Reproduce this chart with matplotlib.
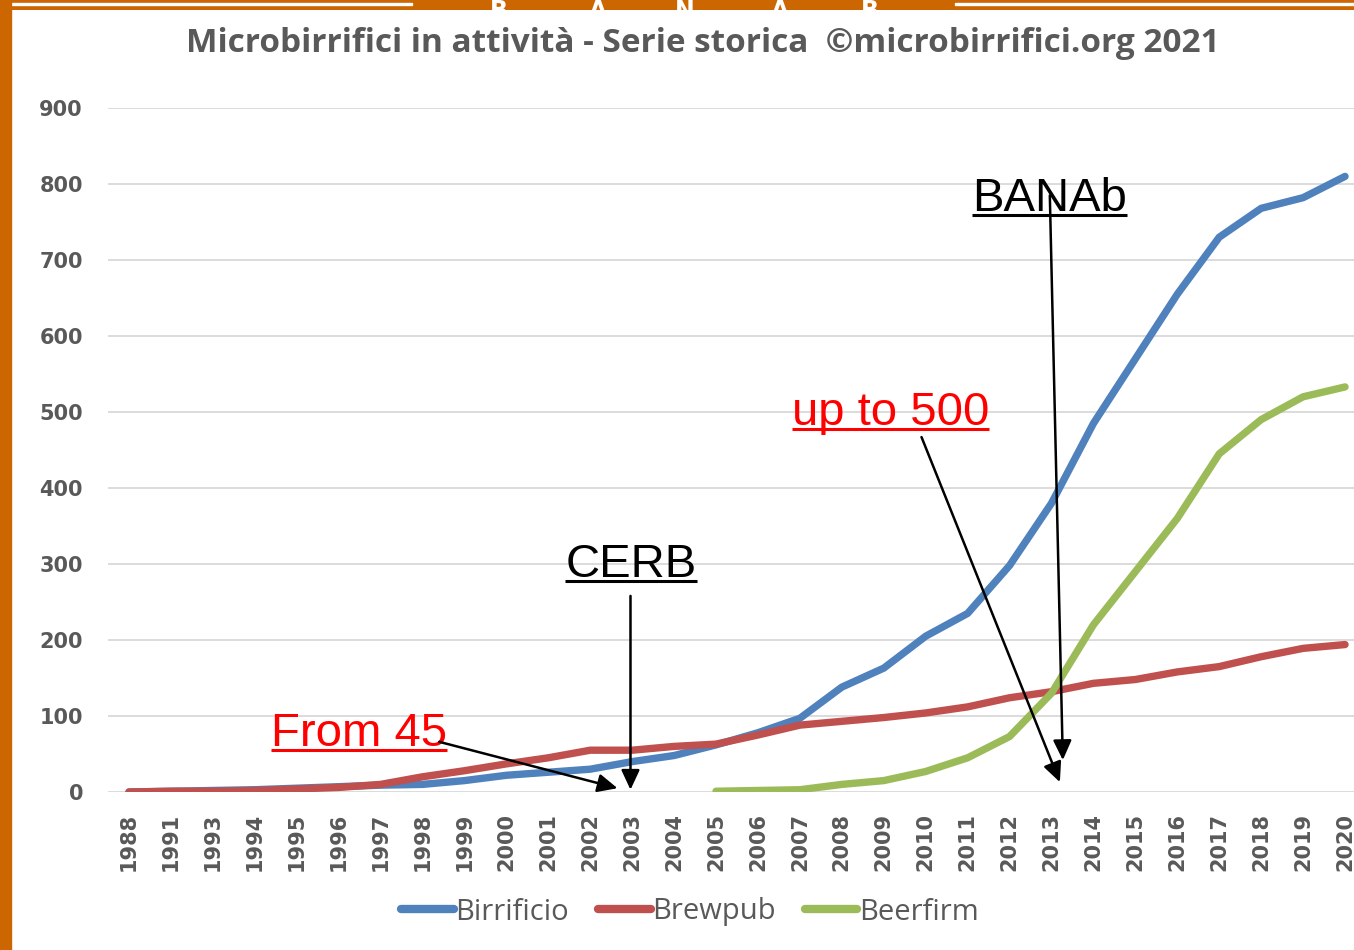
import numpy as np
import matplotlib
matplotlib.use("Agg")
import matplotlib.pyplot as plt
from matplotlib.patches import Rectangle
from matplotlib.lines import Line2D

# data
years = ['1988', '1991', '1993', '1994', '1995', '1996', '1997', '1998', '1999', '2000',
         '2001', '2002', '2003', '2004', '2005', '2006', '2007', '2008', '2009', '2010',
         '2011', '2012', '2013', '2014', '2015', '2016', '2017', '2018', '2019', '2020']
birrificio = [0, 1, 2, 3, 5, 7, 9, 10, 15, 22,
              26, 30, 40, 48, 62, 78, 97, 138, 163, 205,
              235, 298, 380, 485, 570, 655, 730, 768, 782, 810]
brewpub = [0, 1, 1, 2, 4, 6, 10, 20, 28, 37,
           45, 55, 55, 60, 63, 75, 88, 93, 98, 104,
           112, 124, 132, 143, 148, 158, 165, 178, 189, 194]
beerfirm = [np.nan] * 14 + [1, 2, 3, 10, 15, 27, 45, 73, 130, 220,
                            290, 360, 445, 490, 520, 533]

series_names = ['Birrificio', 'Brewpub', 'Beerfirm']
series_colors = ['#4F81BD', '#C0504D', '#9BBB59']
title = 'Microbirrifici in attività - Serie storica  ©microbirrifici.org 2021'

W, H = 1354, 950
fig = plt.figure(figsize=(W / 100, H / 100), dpi=100)
fig.patch.set_facecolor('white')

# orange frame
orange = '#CC6600'
fig.patches.append(Rectangle((0, 0), 11 / W, 1, transform=fig.transFigure, color=orange, zorder=5))
band = fig.add_axes([0, 1 - 10 / H, 1, 10 / H])
band.set_facecolor(orange)
band.set_xticks([])
band.set_yticks([])
for s in band.spines.values():
    s.set_visible(False)
band.set_xlim(0, W)
band.set_ylim(0, 10)
band.add_patch(Rectangle((3, 5), 409, 2, color='white'))
band.add_patch(Rectangle((955, 5), 399, 2, color='white'))
for lx, letter in zip([499, 598, 685, 780, 870], 'BANAB'):
    band.text(lx, 11, letter, color='white', fontsize=17, fontweight='bold',
              ha='center', va='top', clip_on=True)

# main axes, placed so categories land at the same pixels as the original
x0, x1, ybot, ytop = 108, 1366, 792, 108
ax = fig.add_axes([x0 / W, 1 - ybot / H, (x1 - x0) / W, (ybot - ytop) / H])
x = np.arange(len(years))
for vals, name, col in zip([birrificio, brewpub, beerfirm], series_names, series_colors):
    ax.plot(x, vals, color=col, lw=5.3, label=name, solid_capstyle='round',
            solid_joinstyle='round', zorder=3)

ax.set_xlim(-0.5, len(years) - 0.5)
ax.set_ylim(0, 900)
ax.set_yticks(range(0, 901, 100))
ax.set_xticks(x)
ax.set_xticklabels(years, rotation=90)
ax.tick_params(axis='both', length=0, labelcolor='#595959')
ax.tick_params(axis='x', pad=15, labelsize=15)
ax.tick_params(axis='y', pad=18, labelsize=15)
for lab in ax.get_xticklabels() + ax.get_yticklabels():
    lab.set_fontweight('bold')
for s in ax.spines.values():
    s.set_visible(False)
ax.grid(axis='y', color='#D9D9D9', lw=1.3, zorder=0)
ax.set_axisbelow(True)

fig.text(703 / W, 1 - 44 / H, title, ha='center', va='center', color='#595959',
         fontsize=24, fontweight='bold', family='Open Sans')

leg = ax.legend(loc='center', bbox_to_anchor=(690 / W, 1 - 912 / H), bbox_transform=fig.transFigure,
                ncol=3, frameon=False, handlelength=1.8, handletextpad=0.05, columnspacing=1.0,
                prop={'family': 'Open Sans', 'size': 21})
for t in leg.get_texts():
    t.set_color('#595959')
for h in leg.get_lines():
    h.set_linewidth(6)

# annotations (text, underline, arrows)
labels = [('CERB', 10.41, 283, 'black'), ('BANAb', 20.10, 764, 'black'),
          ('up to 500', 15.80, 483, 'red'), ('From 45', 3.39, 60, 'red')]
texts = []
for txt, tx, ty, col in labels:
    t = ax.text(tx, ty, txt, color=col, fontsize=34, family='Liberation Sans',
                ha='left', va='baseline', zorder=4)
    texts.append((t, col))

arrows = [((11.96, 258), (11.96, 3)), ((7.4, 66), (11.65, 5)),
          ((21.96, 785), (22.27, 42)), ((18.9, 467), (22.2, 13))]
for start, tip in arrows:
    ax.annotate('', xy=tip, xytext=start, zorder=5,
                arrowprops=dict(arrowstyle='-|>,head_length=0.6,head_width=0.28',
                                color='black', lw=1.8, mutation_scale=20,
                                shrinkA=0, shrinkB=0))

fig.canvas.draw()
for t, col in texts:
    bb = t.get_window_extent()
    base = ax.transData.transform(t.get_position())[1]
    yl = base - 4
    fig.lines.append(Line2D([bb.x0 / W, bb.x1 / W], [yl / H, yl / H], transform=fig.transFigure,
                            color=col, lw=2.2, solid_capstyle='butt'))

fig.savefig('out.png', dpi=100)
